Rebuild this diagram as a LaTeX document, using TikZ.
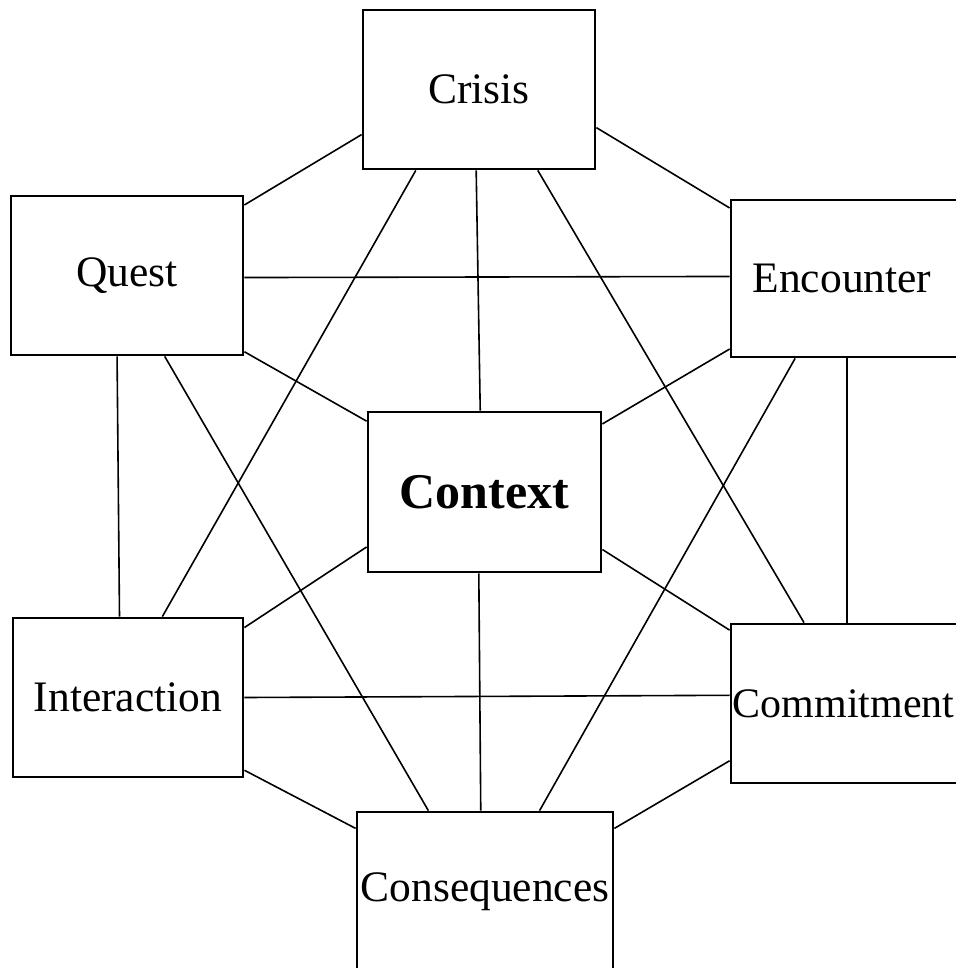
\documentclass[tikz,border=0pt]{standalone}
\usepackage{fontspec}
\setmainfont{Liberation Serif}
\tikzstyle{stage} = [rectangle, minimum width=116pt, minimum height=79.5pt, inner sep=0pt, text centered, draw=black, line width=1.4pt, font=\fontsize{21.75}{26}\selectfont]
\tikzstyle{core} = [stage, font=\fontsize{25}{30}\selectfont\bfseries]
\tikzstyle{link} = [line width=0.8pt]
\begin{document}
\begin{tikzpicture}[x=0.5pt, y=-0.5pt]
\useasboundingbox (0,0) rectangle (956,968);
\clip (0,0) rectangle (956,968);

\node (crisis) [stage] at (479,89.5) {Crisis};
\node (quest) [stage] at (127,275.5) {Quest};
\node (encounter) [stage, minimum height=78.5pt] at (847,278.5) {\hspace*{-5pt}Encounter};
\node (context) [core, minimum width=116.5pt, minimum height=80pt] at (484.5,492) {Context};
\node (interaction) [stage, minimum width=115pt] at (128,697.5) {Interaction};
\node (commitment) [stage, font=\fontsize{21}{26}\selectfont] at (847,703.5) {\hspace*{-3.5pt}Commitment};
\node (consequences) [stage, minimum width=128pt] at (485,891.5) {Consequences};

\draw [link] (crisis.201) -- (quest.31);
\draw [link] (crisis.342) -- (encounter.149);
\draw [link] (crisis.232) -- (interaction.67);
\draw [link] (crisis.268.6) -- (context.93.9);
\draw [link] (crisis.306) -- (commitment.118);
\draw [link] (quest.359.3) -- (encounter.179.3);
\draw [link] (quest.263.5) -- (interaction.96.5);
\draw [link] (quest.295) -- (consequences.125);
\draw [link] (quest.327.3) -- (context.149.5);
\draw [link] (encounter.211.6) -- (context.30.3);
\draw [link] (encounter.237.5) -- (consequences.56.8);
\draw [link] (encounter.south) -- (commitment.north);
\draw [link] (context.205.9) -- (interaction.31.5);
\draw [link] (context.334.3) -- (commitment.148.4);
\draw [link] (context.266) -- (consequences.93.6);
\draw [link] (interaction.0) -- (commitment.176.8);
\draw [link] (interaction.328.9) -- (consequences.154.3);
\draw [link] (commitment.206.8) -- (consequences.26);
\end{tikzpicture}
\end{document}
